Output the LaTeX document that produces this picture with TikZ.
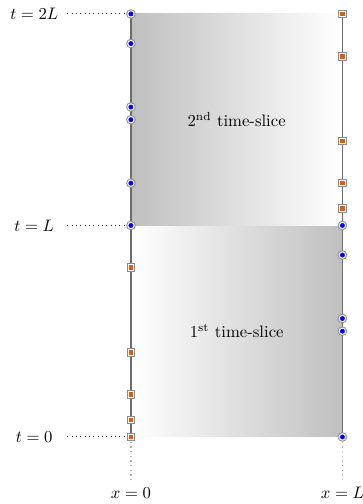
\documentclass[tikz,border=0pt]{standalone}
\usepackage{tikz}
\usetikzlibrary{positioning}
\definecolor{boxorange}{RGB}{225,90,10}

\begin{document}
\begin{tikzpicture}[
        x=4.46cm, y=4.46cm,
        boundary/.style={draw=black!58, line width=1pt},
        guide/.style={dotted, black!85, semithick},
        dropline/.style={dotted, black!30, thick},
        dotnode/.style={circle, fill=blue, draw=white, line width=0.6pt, inner sep=0pt, minimum size=3.8pt, preaction={draw=black!45, line width=1.8pt}},
        boxnode/.style={rectangle, fill=boxorange, draw=white, line width=0.6pt, inner sep=0pt, minimum size=3.4pt, preaction={draw=black!45, line width=1.8pt}}
    ]

        \useasboundingbox (-0.619,-0.317) rectangle (1.097,2.066);

        \coordinate (BottomLeft) at (0,0);
        \coordinate (MidLeft) at (0,1);
        \coordinate (TopLeft) at (0,2);
        \coordinate (BottomRight) at (1,0);
        \coordinate (MidRight) at (1,1);
        \coordinate (TopRight) at (1,2);

        \shade [left color=white, right color=black!25] (BottomLeft) rectangle (MidRight);
        \shade [left color=black!25, right color=white] (MidLeft) rectangle (TopRight);

        \node (Slice1) at (0.5,0.5) {1\textsuperscript{st} time-slice};
        \node (Slice2) at (0.5,1.5) {2\textsuperscript{nd} time-slice};

        \foreach \t/\lab [count=\i] in {0/0, 1/L, 2/2L} {
            \coordinate (Tick\i) at (-0.3,\t);
            \coordinate (Edge\i) at (0,\t);
            \node (TLabel\i) at (-0.457,\t) {$t = \lab$};
            \path[guide] (Tick\i) edge (Edge\i);
        }

        \coordinate (DropLeft) at (0,-0.203);
        \coordinate (DropRight) at (1,-0.203);
        \node (XLabel1) at (0,-0.265) {$x = 0$};
        \node (XLabel2) at (1,-0.265) {$x = L$};
        \path[dropline] (BottomLeft) edge (DropLeft);
        \path[dropline] (BottomRight) edge (DropRight);

        \path[boundary] (BottomLeft) edge (TopLeft);
        \path[boundary] (BottomRight) edge (TopRight);

        \foreach \t [count=\i] in {0, 0.08, 0.2, 0.4, 0.8}
            \node [boxnode] (LeftBox\i) at (0,\t) {};
        \foreach \t [count=\i] in {1, 1.2, 1.5, 1.56, 1.86, 2}
            \node [dotnode] (LeftDot\i) at (0,\t) {};
        \foreach \t [count=\i] in {0, 0.5, 0.56, 0.86, 1}
            \node [dotnode] (RightDot\i) at (1,\t) {};
        \foreach \t [count=\i] in {1.08, 1.2, 1.4, 1.8, 2}
            \node [boxnode] (RightBox\i) at (1,\t) {};

    \end{tikzpicture}
\end{document}
